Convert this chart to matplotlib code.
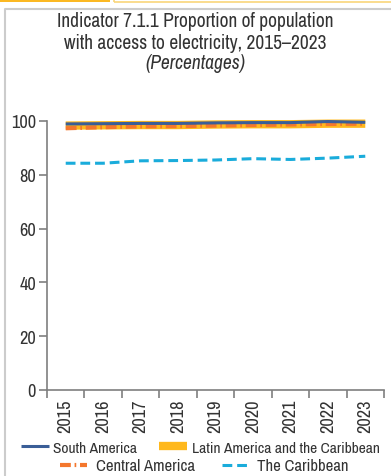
import matplotlib
matplotlib.use("Agg")
import matplotlib.pyplot as plt
import numpy as np
from matplotlib import font_manager
from matplotlib.lines import Line2D
from matplotlib.patches import Rectangle

# access to electricity, % of population
years = ["2015", "2016", "2017", "2018", "2019", "2020", "2021", "2022", "2023"]
south_america = [98.9, 99.0, 99.1, 99.1, 99.3, 99.4, 99.4, 99.8, 99.5]
latin_america = [98.3, 98.4, 98.5, 98.5, 98.7, 98.8, 98.8, 99.0, 99.0]
central_america = [97.3, 97.7, 98.0, 98.1, 98.3, 98.5, 98.7, 98.9, 99.0]
caribbean = [84.3, 84.3, 85.2, 85.3, 85.5, 86.0, 85.7, 86.2, 86.9]

# prefer a narrow face if one is installed
narrow = None
for f in font_manager.fontManager.ttflist:
    if ("Condensed" in f.name or "Narrow" in f.name) and f.style == "normal":
        narrow = f.name
        break
stretch = "normal"
if narrow is None:
    cond = [f for f in font_manager.fontManager.ttflist
            if f.stretch in ("condensed", "semi-condensed") and f.style == "normal"]
    if cond:
        narrow, stretch = cond[0].name, cond[0].stretch
    else:
        narrow = "Roboto"
plt.rcParams["font.family"] = [narrow, "DejaVu Sans"]
plt.rcParams["font.stretch"] = stretch
plt.rcParams["font.weight"] = "light"
wide = narrow == "Roboto"
fs = 10.0 if wide else 11.2

text_col = "#333333"
axis_col = "#7f7f7f"

fig = plt.figure(figsize=(3.91, 4.77), dpi=100)

# page decoration: tab strip and panel frame
fig.add_artist(Rectangle((0, 1 - 3 / 477), 110 / 391, 3 / 477, transform=fig.transFigure,
                         facecolor="#FBB823", edgecolor="none"))
fig.add_artist(Rectangle((114 / 391, 1 - 3 / 477), 280 / 391, 6 / 477, transform=fig.transFigure,
                         facecolor="none", edgecolor="#F9D57A", lw=1.2))
fig.add_artist(Line2D([5 / 391, 5 / 391, 1], [0, 1 - 10 / 477, 1 - 10 / 477],
                      transform=fig.transFigure, color="#cccccc", lw=1.5))

tfs = 12 if wide else 14
fig.text(0.5, 0.954, "Indicator 7.1.1 Proportion of population", ha="center", va="center",
         fontsize=tfs, color=text_col)
fig.text(0.5, 0.909, "with access to electricity, 2015\u20132023", ha="center", va="center",
         fontsize=tfs, color=text_col)
fig.text(0.5, 0.866, "(Percentages)", ha="center", va="center",
         fontsize=tfs, color=text_col, style="italic")

ax = fig.add_axes([47 / 391, 1 - 391 / 477, 337 / 391, 269 / 477])
x = np.arange(len(years))

ax.plot(x, latin_america, color="#FFB81C", lw=6, solid_capstyle="butt",
        label="Latin America and the Caribbean", clip_on=False, zorder=2)
ax.plot(x, central_america, color="#F4772D", lw=3, dash_capstyle="butt",
        dashes=(2.6, 0.9, 0.4, 0.9), label="Central America", clip_on=False, zorder=3)
ax.plot(x, south_america, color="#3A5E97", lw=2.2, solid_capstyle="butt",
        label="South America", clip_on=False, zorder=4)
ax.plot(x, caribbean, color="#1AACDB", lw=2.2, dash_capstyle="butt",
        dashes=(3.2, 1.6), label="The Caribbean", clip_on=False, zorder=3)

ax.set_xlim(-0.5, len(years) - 0.5)
ax.set_ylim(0, 100)
ax.set_yticks(np.arange(0, 101, 20))
ax.set_xticks(np.arange(-0.5, len(years)), labels=[])
ax.set_xticks(x, labels=years, minor=True, rotation=90)

for side in ("top", "right"):
    ax.spines[side].set_visible(False)
for side in ("left", "bottom"):
    ax.spines[side].set_color(axis_col)
    ax.spines[side].set_linewidth(1.2)
ax.tick_params(which="major", direction="out", length=6, width=1.2, color=axis_col,
               labelsize=fs + 2, labelcolor=text_col, pad=2)
ax.tick_params(axis="x", which="minor", length=0, labelsize=fs + 2, labelcolor=text_col, pad=6)

# legend in two centred rows
handles = {h.get_label(): h for h in ax.get_lines()}
fig.legend([handles["South America"], handles["Latin America and the Caribbean"]],
           ["South America", "Latin America and the Caribbean"],
           loc="center", bbox_to_anchor=(0.512, 0.059), ncol=2, frameon=False,
           fontsize=fs, handlelength=1.8, handletextpad=0.3, columnspacing=1.4,
           labelcolor=text_col, borderpad=0)
fig.legend([handles["Central America"], handles["The Caribbean"]],
           ["Central America", "The Caribbean"],
           loc="center", bbox_to_anchor=(0.523, 0.021), ncol=2, frameon=False,
           fontsize=fs + 0.8, handlelength=1.6, handletextpad=0.55, columnspacing=1.6,
           labelcolor=text_col, borderpad=0)

fig.savefig("out.png", dpi=100)
